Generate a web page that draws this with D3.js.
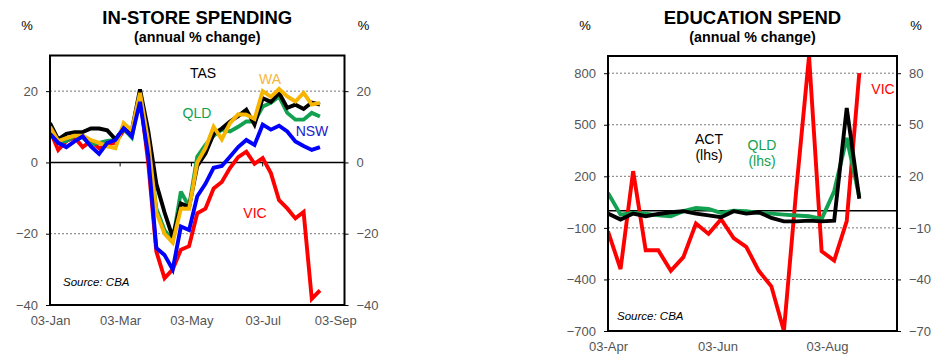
<!DOCTYPE html>
<html>
<head>
<meta charset="utf-8">
<title>In-store spending / Education spend</title>
<script src="https://d3js.org/d3.v7.min.js"></script>
<style>
    body { margin: 0; background: #fff; }
    text { font-family: Arial, "Liberation Sans", sans-serif; }
</style>
</head>
<body>
<div id="chart"></div>
<script>
    // ---- data: in-store spending, weekly from 03-Jan-2020 (annual % change)
    var storeStart = new Date(2020, 0, 3);
    var storeVIC = [9, 3.5, 6, 7, 4.3, 6, 4, 5, 5.5, 9, 8, 19, 0, -25, -32.5, -30, -24.5, -23.5, -14.3, -13,
        -7.3, -5.5, -1.6, 1.5, 3, -0.4, 1.2, -3, -10.6, -12.9, -15.7, -13.9, -38.3, -35.9];
    var storeNSW = [8, 5.5, 4.3, 5.9, 7.3, 4.5, 2.4, 5.5, 6.3, 9.6, 7.3, 17, 2, -24, -26, -30, -18, -19, -9.5, -6,
        -1.5, -1, 1.6, 4.3, 6.3, 4.9, 10.6, 9.2, 10.3, 8.7, 5.9, 4.6, 3.5, 4.3];
    var storeQLD = [9, 5.5, 6, 7.5, 7, 5, 5.5, 6, 6.3, 9.5, 7, 19, 5, -13, -19, -22, -8.2, -12.4, 1.6, 4.9,
        7.5, 9.2, 8.7, 10, 11.5, 11.5, 15.7, 16.7, 18.5, 13.9, 12, 12, 13.9, 12.9];
    var storeTAS = [11, 6.5, 8, 8.5, 8.5, 9.5, 9.5, 9, 6.5, 9.5, 9, 20.5, 9, -6, -14, -21, -11.5, -12.5, -1, 2.5,
        8, 9.5, 11.5, 13, 14.8, 10.6, 18, 17, 19.5, 15.3, 16.2, 15, 16.8, 16.2];
    var storeWA = [10, 6, 6.8, 7.5, 7.5, 6.3, 5.5, 4.5, 4, 11, 9, 19.5, 6, -14, -20, -22.5, -13, -13, 0, 4,
        10, 6.5, 11, 13.5, 13.4, 12.2, 20, 18.4, 20.6, 18.5, 17.1, 19.5, 16.2, 16.7];
    var storeTicks = [-40, -20, 0, 20];
    var storeDates = ["2020-01-03", "2020-03-03", "2020-05-03", "2020-07-03", "2020-09-03"];

    // ---- data: education spend, weekly from 03-Apr-2020
    var eduStart = new Date(2020, 3, 3);
    var eduACT = [-17, -52, -17, -32, -19, -9, -3, -17, -27, -38, -3, -17, -9, -42, -62, -62, -58, -62, -58, 598, 69];   // lhs
    var eduQLD = [103, -23, -13, -17, -27, -32, -3, 16, 10, -13, 0, -3, -13, -17, -23, -28, -32, -48, 113, 423, 80];    // lhs
    var eduVIC = [-12, -34, 23, -23, -23, -35, -27, -7.5, -13.5, -5, -16, -21, -35, -44, -70, 13.5, 90, -23.6, -29, -6, 80]; // rhs
    var eduTicksL = [-700, -400, -100, 200, 500, 800];
    var eduTicksR = [-70, -40, -10, 20, 50, 80];
    var eduDates = ["2020-04-03", "2020-06-03", "2020-08-03"];

    var parse = d3.timeParse("%Y-%m-%d");
    var fmt = d3.timeFormat("%d-%b");
    function weekly(start, n) {
        return d3.range(n).map(function (i) { return d3.timeDay.offset(start, i * 7); });
    }

    var svg = d3.select("#chart").append("svg")
        .attr("width", 944).attr("height", 360);

    // shared bits for each panel: titles, frame, grid, axes
    function panel(o) {
        var g = svg.append("g").attr("transform", "translate(" + o.left + "," + o.top + ")");
        var cx = o.left + o.width / 2;

        svg.append("text").attr("x", cx).attr("y", 24).attr("text-anchor", "middle")
            .style("font-size", "18.5px").style("font-weight", "bold").text(o.title);
        svg.append("text").attr("x", cx).attr("y", 42).attr("text-anchor", "middle")
            .style("font-size", "14.3px").style("font-weight", "bold").text("(annual % change)");
        svg.append("text").attr("x", o.left - 23).attr("y", 30).attr("text-anchor", "middle")
            .style("font-size", "13px").text("%");
        svg.append("text").attr("x", o.left + o.width + 19).attr("y", 30).attr("text-anchor", "middle")
            .style("font-size", "13px").text("%");

        // dotted grid
        g.selectAll(".grid").data(o.ticks.filter(function (t) { return t != 0 && t != o.y.domain()[0]; }))
            .enter().append("line")
            .attr("x1", 0).attr("x2", o.width)
            .attr("y1", function (d) { return o.y(d); }).attr("y2", function (d) { return o.y(d); })
            .attr("stroke", "#777").attr("stroke-width", 1).attr("stroke-dasharray", "2,2");

        // left + right axes (labels only, little ticks outside)
        var yl = g.append("g").call(d3.axisLeft(o.y).tickValues(o.ticks).tickSize(4).tickPadding(8)
            .tickFormat(o.fmtL));
        var yr = g.append("g").attr("transform", "translate(" + o.width + ",0)")
            .call(d3.axisRight(o.y2).tickValues(o.ticks2).tickSize(4).tickPadding(8));
        [yl, yr].forEach(function (a) {
            a.select(".domain").remove();
            a.selectAll("text").style("font-size", "13px").attr("fill", "#555")
                .style("font-family", "Arial, 'Liberation Sans', sans-serif");
            a.selectAll("line").attr("stroke", "#000");
        });

        // x axis labels under the frame
        var xa = g.append("g").attr("transform", "translate(0," + o.height + ")")
            .call(d3.axisBottom(o.x).tickValues(o.xticks).tickSize(0).tickPadding(11).tickFormat(fmt));
        xa.select(".domain").remove();
        xa.selectAll("text").style("font-size", "13px").attr("fill", "#555")
            .style("font-family", "Arial, 'Liberation Sans', sans-serif");

        // zero line
        g.append("line").attr("x1", 0).attr("x2", o.width)
            .attr("y1", o.y(0)).attr("y2", o.y(0)).attr("stroke", "#000").attr("stroke-width", 1.5);

        g.append("clipPath").attr("id", o.id + "clip").append("rect")
            .attr("width", o.width).attr("height", o.height);

        g.append("text").attr("x", o.srcX).attr("y", o.height - o.srcB)
            .style("font-size", "11.5px").style("font-style", "italic").text("Source: CBA");
        return g;
    }

    function drawLine(g, id, xs, ys, vals, color) {
        var line = d3.line()
            .x(function (d, i) { return xs(d[0]); })
            .y(function (d) { return ys(d[1]); });
        g.append("path")
            .datum(vals.map(function (v, i) { return [i, v]; }))
            .attr("clip-path", "url(#" + id + "clip)")
            .attr("fill", "none").attr("stroke", color).attr("stroke-width", 3.9)
            .attr("stroke-linejoin", "miter").attr("stroke-miterlimit", 3)
            .attr("d", line);
    }

    var RED = "#ff0000", BLUE = "#0000ff", GREEN = "#12a150", GOLD = "#f7b500", BLACK = "#000";

    // ================= IN-STORE SPENDING =================
    var s = { id: "s", left: 50, top: 55.5, width: 294.5, height: 249.5, title: "IN-STORE SPENDING",
        srcX: 13, srcB: 19 };
    var sWeeks = weekly(storeStart, storeVIC.length);
    s.x = d3.scaleTime().domain([storeStart, new Date(2020, 8, 11)]).range([0, s.width]);
    s.y = d3.scaleLinear().domain([-40, 30]).range([s.height, 0]);
    s.y2 = s.y;
    s.ticks = storeTicks; s.ticks2 = storeTicks;
    s.xticks = storeDates.map(parse);
    s.fmtL = d3.format("d");
    var gs = panel(s);

    // tick marks hanging off the zero line
    gs.selectAll(".xt").data(s.xticks.slice(1, 4)).enter().append("line")
        .attr("x1", function (d) { return s.x(d); }).attr("x2", function (d) { return s.x(d); })
        .attr("y1", s.y(0)).attr("y2", s.y(0) + 4).attr("stroke", "#000");

    var sx = function (i) { return s.x(sWeeks[i]); };
    drawLine(gs, "s", sx, s.y, storeVIC, RED);
    drawLine(gs, "s", sx, s.y, storeQLD, GREEN);
    drawLine(gs, "s", sx, s.y, storeTAS, BLACK);
    drawLine(gs, "s", sx, s.y, storeWA, GOLD);
    drawLine(gs, "s", sx, s.y, storeNSW, BLUE);

    gs.append("rect").attr("width", s.width).attr("height", s.height)
        .attr("fill", "none").attr("stroke", "#000").attr("stroke-width", 2);

    var sLabels = [["TAS", 153, 22, "#000"], ["WA", 220, 28, "#f5b640"], ["QLD", 147, 62, GREEN],
        ["NSW", 262, 80, "#2020c8"], ["VIC", 205, 162, RED]];
    gs.selectAll(".lab").data(sLabels).enter().append("text")
        .attr("x", function (d) { return d[1]; }).attr("y", function (d) { return d[2]; })
        .attr("text-anchor", "middle").style("font-size", "14px")
        .attr("fill", function (d) { return d[3]; }).text(function (d) { return d[0]; });

    // ================= EDUCATION SPEND =================
    var e = { id: "e", left: 608, top: 56, width: 289, height: 275, title: "EDUCATION SPEND",
        srcX: 9, srcB: 11 };
    var eWeeks = weekly(eduStart, eduVIC.length);
    e.x = d3.scaleTime().domain([eduStart, new Date(2020, 8, 11)]).range([0, e.width]);
    e.y = d3.scaleLinear().domain([-700, 900]).range([e.height, 0]);
    e.y2 = d3.scaleLinear().domain([-70, 90]).range([e.height, 0]);
    e.ticks = eduTicksL; e.ticks2 = eduTicksR;
    e.xticks = eduDates.map(parse);
    e.fmtL = d3.format("d");
    var ge = panel(e);

    var ex = function (i) { return e.x(eWeeks[i]); };
    drawLine(ge, "e", ex, e.y2, eduVIC, RED);
    drawLine(ge, "e", ex, e.y, eduQLD, GREEN);
    drawLine(ge, "e", ex, e.y, eduACT, BLACK);

    ge.append("rect").attr("width", e.width).attr("height", e.height)
        .attr("fill", "none").attr("stroke", "#000").attr("stroke-width", 2);

    var eLabels = [["ACT", 101, 88, "#000"], ["(lhs)", 101, 104, "#000"], ["QLD", 154, 94, GREEN],
        ["(lhs)", 154, 110, GREEN], ["VIC", 275, 38, RED]];
    ge.selectAll(".lab").data(eLabels).enter().append("text")
        .attr("x", function (d) { return d[1]; }).attr("y", function (d) { return d[2]; })
        .attr("text-anchor", "middle").style("font-size", "14px")
        .attr("fill", function (d) { return d[3]; }).text(function (d) { return d[0]; });
</script>
</body>
</html>
